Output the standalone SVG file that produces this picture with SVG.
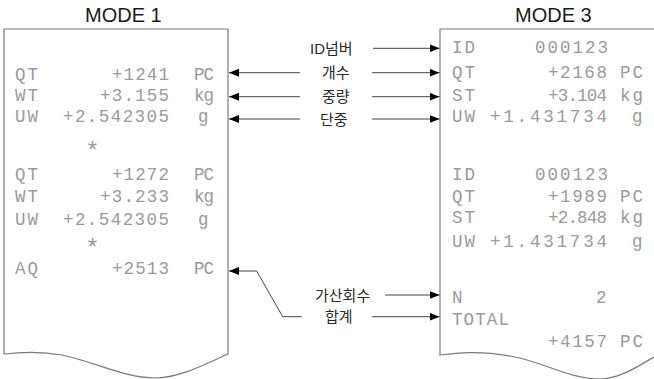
<svg xmlns="http://www.w3.org/2000/svg" width="654" height="379" viewBox="0 0 654 379">
<style>
.paper{fill:#fff;stroke:#7a7a7a;stroke-width:1.2}
.title{font-family:"Liberation Sans",Arial,sans-serif;font-size:20px;fill:#1a1a1a}
.p{font-family:"Liberation Mono","DejaVu Sans Mono",monospace;font-size:17.5px;fill:#9a9a9a}
.star{font-family:"Liberation Mono","DejaVu Sans Mono",monospace;font-size:24px;fill:#9a9a9a;text-anchor:middle}
.lbl{font-family:"Liberation Sans","Noto Sans CJK KR",sans-serif;font-size:15px;fill:#2a2a2a}
.kr{font-family:"Noto Sans CJK KR",sans-serif;font-size:15px;fill:#2a2a2a}
.c{fill:none;stroke:#444;stroke-width:1}
</style>
<defs>
<marker id="ah" viewBox="0 0 10 8" refX="10" refY="4" markerWidth="10" markerHeight="8" markerUnits="userSpaceOnUse" orient="auto">
<path d="M0,0 L10,4 L0,8 z" fill="#000"/>
</marker>
</defs>
<rect width="654" height="379" fill="#fff"/>

<g id="mode1">
<text class="title" x="85" y="21.7">MODE 1</text>
<path class="paper" d="M4,354 L4,29 L228,29 L228,354 C205,364 180,378 155,378 C125,378 95,362 62,355 C40,351 20,352 4,354 Z"/>
<text class="p" x="15" y="80" textLength="23">QT</text>
<text class="p" x="112" y="80" textLength="57">+1241</text>
<text class="p" x="194" y="80" textLength="20">PC</text>
<text class="p" x="15" y="101" textLength="23">WT</text>
<text class="p" x="100" y="101" textLength="69">+3.155</text>
<text class="p" x="194" y="101" textLength="20">kg</text>
<text class="p" x="15" y="122" textLength="23">UW</text>
<text class="p" x="63" y="122" textLength="106">+2.542305</text>
<text class="p" x="198" y="122">g</text>
<text class="star" x="92.5" y="159">*</text>
<text class="p" x="15" y="180" textLength="23">QT</text>
<text class="p" x="112" y="180" textLength="57">+1272</text>
<text class="p" x="194" y="180" textLength="20">PC</text>
<text class="p" x="15" y="202" textLength="23">WT</text>
<text class="p" x="100" y="202" textLength="69">+3.233</text>
<text class="p" x="194" y="202" textLength="20">kg</text>
<text class="p" x="15" y="225" textLength="23">UW</text>
<text class="p" x="63" y="225" textLength="106">+2.542305</text>
<text class="p" x="198" y="225">g</text>
<text class="star" x="92.5" y="256">*</text>
<text class="p" x="15" y="273.5" textLength="23">AQ</text>
<text class="p" x="112" y="273.5" textLength="57">+2513</text>
<text class="p" x="194" y="273.5" textLength="20">PC</text>
</g>

<g id="mode3">
<text class="title" x="515" y="21.7">MODE 3</text>
<path class="paper" d="M654,29 L440,29 L440,355 C455,353 480,350 515,357 C545,363 570,379 600,379 C620,379 640,365 654,357"/>
<text class="p" x="452" y="53.3" textLength="23">ID</text>
<text class="p" x="535" y="53.3" textLength="73">000123</text>
<text class="p" x="452" y="78.3" textLength="23">QT</text>
<text class="p" x="548" y="78.3" textLength="59">+2168</text>
<text class="p" x="620" y="78.3" textLength="23">PC</text>
<text class="p" x="452" y="101" textLength="23">ST</text>
<text class="p" x="548" y="101" textLength="59">+3.104</text>
<text class="p" x="620" y="101" textLength="23">kg</text>
<text class="p" x="452" y="122.3" textLength="23">UW</text>
<text class="p" x="490" y="122.3" textLength="117">+1.431734</text>
<text class="p" x="632" y="122.3">g</text>
<text class="p" x="452" y="180" textLength="23">ID</text>
<text class="p" x="535" y="180" textLength="73">000123</text>
<text class="p" x="452" y="201.7" textLength="23">QT</text>
<text class="p" x="548" y="201.7" textLength="59">+1989</text>
<text class="p" x="620" y="201.7" textLength="23">PC</text>
<text class="p" x="452" y="223.3" textLength="23">ST</text>
<text class="p" x="548" y="223.3" textLength="59">+2.848</text>
<text class="p" x="620" y="223.3" textLength="23">kg</text>
<text class="p" x="452" y="246.7" textLength="23">UW</text>
<text class="p" x="490" y="246.7" textLength="117">+1.431734</text>
<text class="p" x="632" y="246.7">g</text>
<text class="p" x="452" y="303.3">N</text>
<text class="p" x="596" y="303.3">2</text>
<text class="p" x="452" y="325" textLength="57">TOTAL</text>
<text class="p" x="548" y="346.7" textLength="59">+4157</text>
<text class="p" x="620" y="346.7" textLength="23">PC</text>
</g>

<g id="labels">
<text class="lbl" x="310" y="53.5">ID<tspan class="kr">넘버</tspan></text>
<text class="kr" x="322" y="78">개수</text>
<text class="kr" x="322" y="102">중량</text>
<text class="kr" x="320" y="124.5">단중</text>
<text class="kr" x="315" y="300.5">가산회수</text>
<text class="kr" x="325" y="322">합계</text>
</g>

<g id="connectors">
<path class="c" d="M373,48.3 L439.5,48.3" marker-end="url(#ah)"/>
<path class="c" d="M300,72.7 L229,72.7" marker-end="url(#ah)"/>
<path class="c" d="M372,72.7 L439.5,72.7" marker-end="url(#ah)"/>
<path class="c" d="M300,96.7 L229,96.7" marker-end="url(#ah)"/>
<path class="c" d="M372,96.7 L439.5,96.7" marker-end="url(#ah)"/>
<path class="c" d="M300,119 L229,119" marker-end="url(#ah)"/>
<path class="c" d="M372,119 L439.5,119" marker-end="url(#ah)"/>
<path class="c" d="M385,295 L439.5,295" marker-end="url(#ah)"/>
<path class="c" d="M372,316.7 L439.5,316.7" marker-end="url(#ah)"/>
<path class="c" d="M301.7,316.7 L282.7,316.7 L256.7,271 L229,271" marker-end="url(#ah)"/>
</g>
</svg>
